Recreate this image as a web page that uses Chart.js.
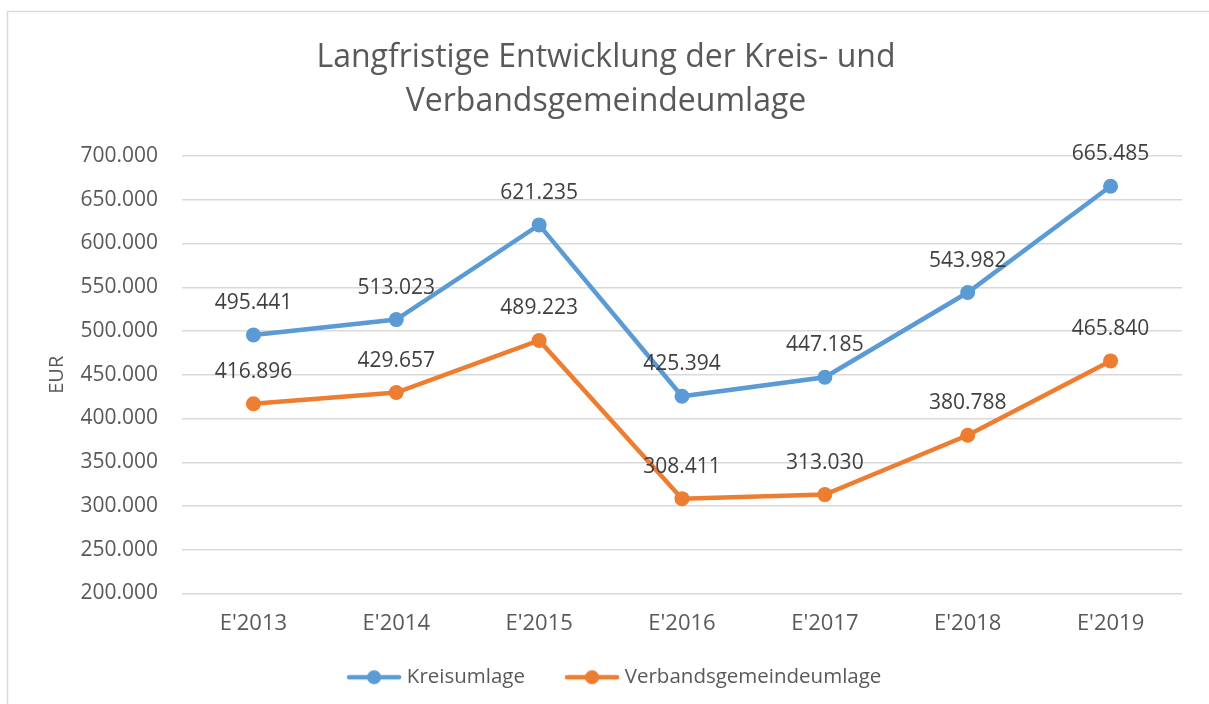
<!DOCTYPE html>
<html>
<head>
<meta charset="utf-8">
<script src="https://cdn.jsdelivr.net/npm/chart.js@4.4.1/dist/chart.umd.min.js"></script>
<style>
  html, body { margin: 0; padding: 0; background: #fff; }
  #wrap { position: relative; width: 1209px; height: 704px; }
</style>
</head>
<body>
<div id="wrap"><canvas id="chart" width="1209" height="704"></canvas></div>
<script>
// data
const years = ["E'2013", "E'2014", "E'2015", "E'2016", "E'2017", "E'2018", "E'2019"];
const kreisumlage = [495441, 513023, 621235, 425394, 447185, 543982, 665485];
const verbandsumlage = [416896, 429657, 489223, 308411, 313030, 380788, 465840];
const titleLines = ["Langfristige Entwicklung der Kreis- und", "Verbandsgemeindeumlage"];

const BLUE = "#5B9BD5";
const ORANGE = "#ED7D31";
const TEXT = "#595959";
const FONT = "'Open Sans', 'Noto Sans', sans-serif";

const fmt = v => Number(v).toLocaleString('de-DE');

// legend marker: line with a dot, drawn at the right end of a wider canvas
// so the gap between legend entries comes out like the original
function marker(color) {
  const c = document.createElement('canvas');
  c.width = 77; c.height = 18;
  const g = c.getContext('2d');
  const x0 = 77 - 56;
  g.strokeStyle = color;
  g.lineWidth = 4.5;
  g.lineCap = 'round';
  g.beginPath(); g.moveTo(x0 + 3, 9); g.lineTo(74, 9); g.stroke();
  g.fillStyle = color;
  g.beginPath(); g.arc(x0 + 28, 9, 7, 0, Math.PI * 2); g.fill();
  return c;
}

// frame around the chart
const frame = {
  id: 'frame',
  beforeDraw(chart) {
    const ctx = chart.ctx;
    ctx.save();
    ctx.strokeStyle = '#D9D9D9';
    ctx.lineWidth = 1.5;
    ctx.strokeRect(7.5, 11.5, 1400, 900);
    ctx.restore();
  }
};

// value labels above points
const valueLabels = {
  id: 'valueLabels',
  afterDatasetsDraw(chart) {
    const ctx = chart.ctx;
    ctx.save();
    ctx.font = "21px " + FONT;
    ctx.fillStyle = '#404040';
    ctx.textAlign = 'center';
    ctx.textBaseline = 'middle';
    chart.data.datasets.forEach((ds, i) => {
      chart.getDatasetMeta(i).data.forEach((pt, j) => {
        ctx.fillText(fmt(ds.data[j]), pt.x, pt.y - 32);
      });
    });
    ctx.restore();
  }
};

new Chart(document.getElementById('chart'), {
  type: 'line',
  data: {
    labels: years,
    datasets: [
      {
        label: 'Kreisumlage', data: kreisumlage,
        borderColor: BLUE, backgroundColor: BLUE,
        borderWidth: 4.5, pointRadius: 7.5, pointBorderWidth: 0,
        pointBackgroundColor: BLUE, tension: 0
      },
      {
        label: 'Verbandsgemeindeumlage', data: verbandsumlage,
        borderColor: ORANGE, backgroundColor: ORANGE,
        borderWidth: 4.5, pointRadius: 7.5, pointBorderWidth: 0,
        pointBackgroundColor: ORANGE, tension: 0
      }
    ]
  },
  options: {
    responsive: false,
    animation: false,
    layout: { padding: { left: 30, right: 27, top: 0, bottom: 6.5 } },
    plugins: {
      tooltip: { enabled: false },
      title: {
        display: true,
        text: titleLines,
        color: TEXT,
        font: { family: FONT, size: 32, weight: 'normal', lineHeight: 1.375 },
        padding: { top: 36, bottom: 32 }
      },
      legend: {
        position: 'bottom',
        labels: {
          color: TEXT,
          font: { family: FONT, size: 20.5 },
          padding: 23.5,
          usePointStyle: true,
          pointStyleWidth: 66,
          generateLabels(chart) {
            return chart.data.datasets.map((ds, i) => ({
              text: ds.label,
              pointStyle: marker(ds.borderColor),
              fillStyle: ds.borderColor,
              strokeStyle: ds.borderColor,
              lineWidth: 0,
              fontColor: TEXT,
              hidden: false,
              datasetIndex: i
            }));
          }
        }
      }
    },
    scales: {
      x: {
        offset: true,
        grid: { display: false },
        border: { display: false },
        ticks: { color: TEXT, font: { family: FONT, size: 22 }, padding: 9 },
        afterFit(s) { s.height = 50; }
      },
      y: {
        min: 200000, max: 700000,
        grid: { color: '#D9D9D9', lineWidth: 1.5, drawTicks: false },
        border: { display: false },
        ticks: {
          stepSize: 50000, color: TEXT, padding: 24,
          font: { family: FONT, size: 21 },
          callback: v => fmt(v)
        },
        title: {
          display: true, text: 'EUR', color: TEXT,
          font: { family: FONT, size: 20 },
          padding: { top: 15, bottom: 0 }
        },
        afterFit(s) { s.width = 152; }
      }
    }
  },
  plugins: [frame, valueLabels]
});
</script>
</body>
</html>
